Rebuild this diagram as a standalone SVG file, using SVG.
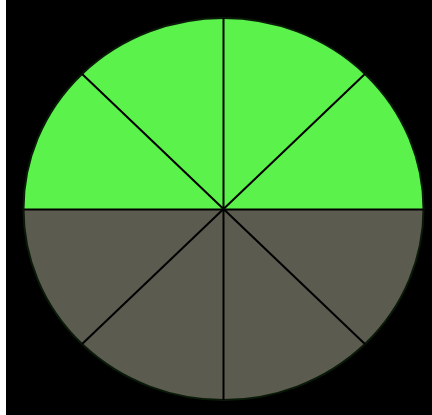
<svg xmlns="http://www.w3.org/2000/svg" width="432" height="415" viewBox="0 0 432 415">
<style>
.top{fill:#5af24b}
.bot{fill:#5c5b50}
.div{stroke:#000;stroke-width:2;fill:none}
</style>
<rect x="0" y="0" width="432" height="415" fill="#fff"/>
<rect x="6" y="0" width="426" height="415" fill="#000"/>
<g id="pie">
<path class="top" d="M23.5,209 A200,191 0 0 1 423.5,209 Z"/>
<path class="bot" d="M23.5,209 A200,191 0 0 0 423.5,209 Z"/>
<ellipse cx="223.5" cy="209" rx="200" ry="191" fill="none" stroke="#0a1a08" stroke-width="2"/>
</g>
<g id="dividers" class="div">
<line x1="23.5" y1="209.5" x2="423.5" y2="209.5"/>
<line x1="223.5" y1="18" x2="223.5" y2="400"/>
<line x1="82.1" y1="74" x2="364.9" y2="344"/>
<line x1="82.1" y1="344" x2="364.9" y2="74"/>
</g>
</svg>
